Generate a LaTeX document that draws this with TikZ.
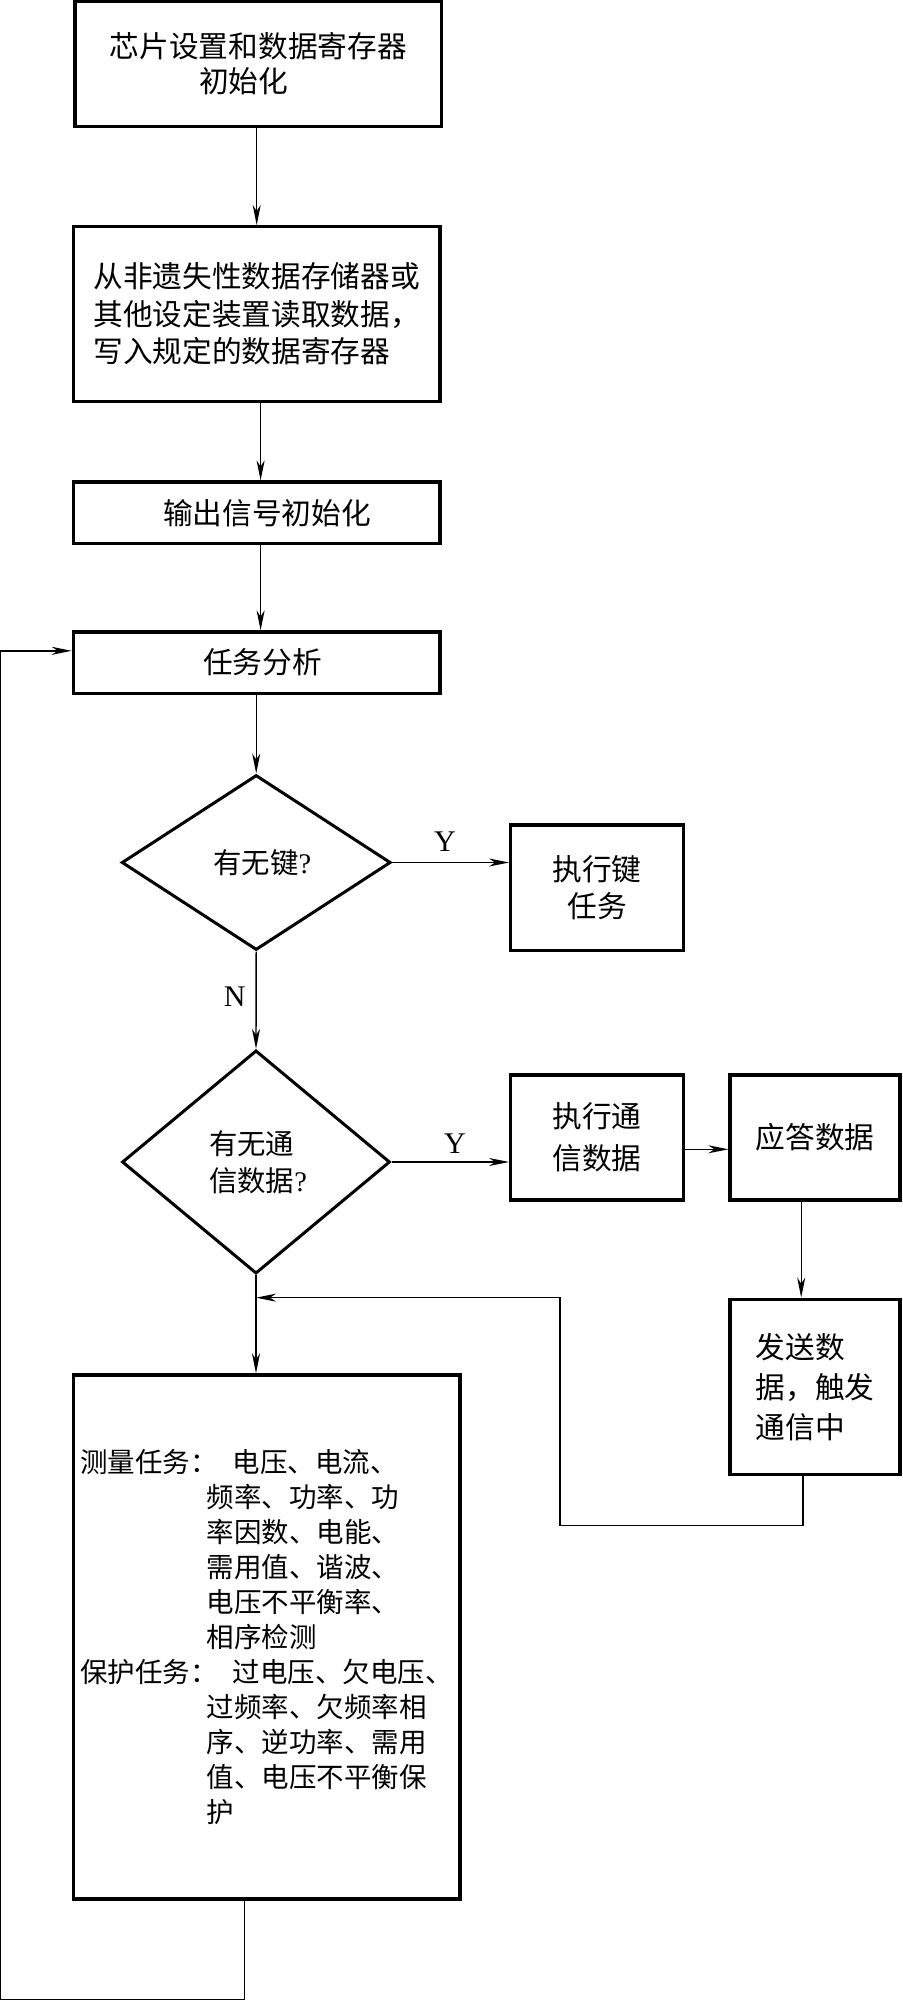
\documentclass[tikz,border=0pt]{standalone}
\usepackage{fontspec}
\setmainfont{Liberation Serif}
\newfontfamily\cjk{Noto Sans CJK SC}
\usetikzlibrary{shapes.geometric,arrows.meta,calc}
\begin{document}
\begin{tikzpicture}[x=0.5pt,y=-0.5pt,
  cbox/.style={draw, line width=1.65pt, rectangle, inner sep=0pt, align=center},
  dia/.style={draw, diamond, line width=1.5pt, inner sep=0pt, align=left,
              font=\fontsize{14.2pt}{18.5pt}\cjk},
  arr/.style={line width=0.7pt, -{Stealth[length=10pt,width=4pt,inset=3pt]}},
  lab/.style={inner sep=0pt, font=\fontsize{15pt}{18pt}\rmfamily},
  f15/.style={font=\fontsize{14.85pt}{#1}\cjk}]
\path[fill=white, use as bounding box] (0,0) rectangle (902,2000);

\node[cbox, f15=17.2pt, minimum width=183.35pt, minimum height=62.5pt] (b1) at (258.3,63.8)
  {芯片设置和数据寄存器\\初始化\hspace*{14.7pt}};
\node[cbox, f15=18.75pt, align=left, minimum width=183.35pt, minimum height=87.3pt] (b2) at (256.7,314)
  {从非遗失性数据存储器或\\其他设定装置读取数据，\\写入规定的数据寄存器};
\node[cbox, f15=18pt, minimum width=183.35pt, minimum height=30.8pt] (b3) at (256.7,512.9)
  {\hspace*{10.3pt}输出信号初始化};
\node[cbox, f15=18pt, minimum width=183.35pt, minimum height=30.6pt] (b4) at (256.7,662.7)
  {\hspace*{5.9pt}任务分析};

\node[dia, minimum width=134.5pt, minimum height=87.5pt] (d1) at (256.2,862.5)
  {\hspace*{6pt}有无键{\rmfamily ?}};
\node[dia, minimum width=134pt, minimum height=111.6pt] (d2) at (256,1162)
  {\hspace*{2pt}有无通\\\hspace*{2pt}信数据{\rmfamily ?}};

\node[cbox, f15=18.3pt, minimum width=86.3pt, minimum height=62.85pt] (kb) at (597,887.85)
  {执行键\\任务};
\node[cbox, f15=20.8pt, minimum width=86.3pt, minimum height=62.5pt] (cb) at (597,1137.5)
  {执行通\\信数据};
\node[cbox, f15=18pt, minimum width=85pt, minimum height=62.5pt] (rp) at (815,1137.5)
  {应答数据};
\node[cbox, f15=20pt, align=left, minimum width=85pt, minimum height=87.5pt] (sd) at (815,1386.8)
  {发送数\\据，触发\\通信中};

\node[cbox, align=left, font=\fontsize{13.75pt}{17.5pt}\cjk,
      minimum width=193.35pt, minimum height=262pt] (bb) at (266.65,1637)
  {测量任务：\hspace*{7.5pt}电压、电流、\\
   \hspace*{63.2pt}频率、功率、功\\
   \hspace*{63.2pt}率因数、电能、\\
   \hspace*{63.2pt}需用值、谐波、\\
   \hspace*{63.2pt}电压不平衡率、\\
   \hspace*{63.2pt}相序检测\\
   保护任务：\hspace*{7.5pt}过电压、欠电压、\\
   \hspace*{63.2pt}过频率、欠频率相\\
   \hspace*{63.2pt}序、逆功率、需用\\
   \hspace*{63.2pt}值、电压不平衡保\\
   \hspace*{63.2pt}护};

\node[lab] (y1) at (445,841.7) {Y};
\node[lab] (y2) at (455,1143.3) {Y};
\node[lab] (n1) at (234.7,996.7) {N};

\coordinate (fbend) at (d2.south |- sd.north);

\draw[arr] (b1.south -| b2.north) -- (b2.north);
\draw[arr] ($(b2.south)+(3.9,0)$) -- ($(b3.north)+(3.9,0)$);
\draw[arr] ($(b3.south)+(3.9,0)$) -- ($(b4.north)+(3.9,0)$);
\draw[arr] (b4.south -| d1.north) -- (d1.north);
\draw[arr] (d1.east) -- (d1.east -| kb.west);
\draw[arr] (d1.south) -- (d2.north);
\draw[arr] (d2.east) -- (d2.east -| cb.west);
\draw[arr] ($(cb.east)+(0,11.8)$) -- ($(rp.west)+(0,11.8)$);
\draw[arr] ($(rp.south)+(-13.8,0)$) -- ($(sd.north)+(-13.8,0)$);
\draw[arr] (d2.south) -- (d2.south |- bb.north);
\draw[arr] ($(sd.south)+(-12.2,0)$) -- ++(0,49.7) -| ($(fbend)+(304,0)$) -- (fbend);
\draw[arr] ($(bb.south)+(-22.15,0)$) -- ++(0,99.2) -| ($(b4.west)+(-71.6,-11.9)$) -- ($(b4.west)+(0,-11.9)$);
\end{tikzpicture}
\end{document}
